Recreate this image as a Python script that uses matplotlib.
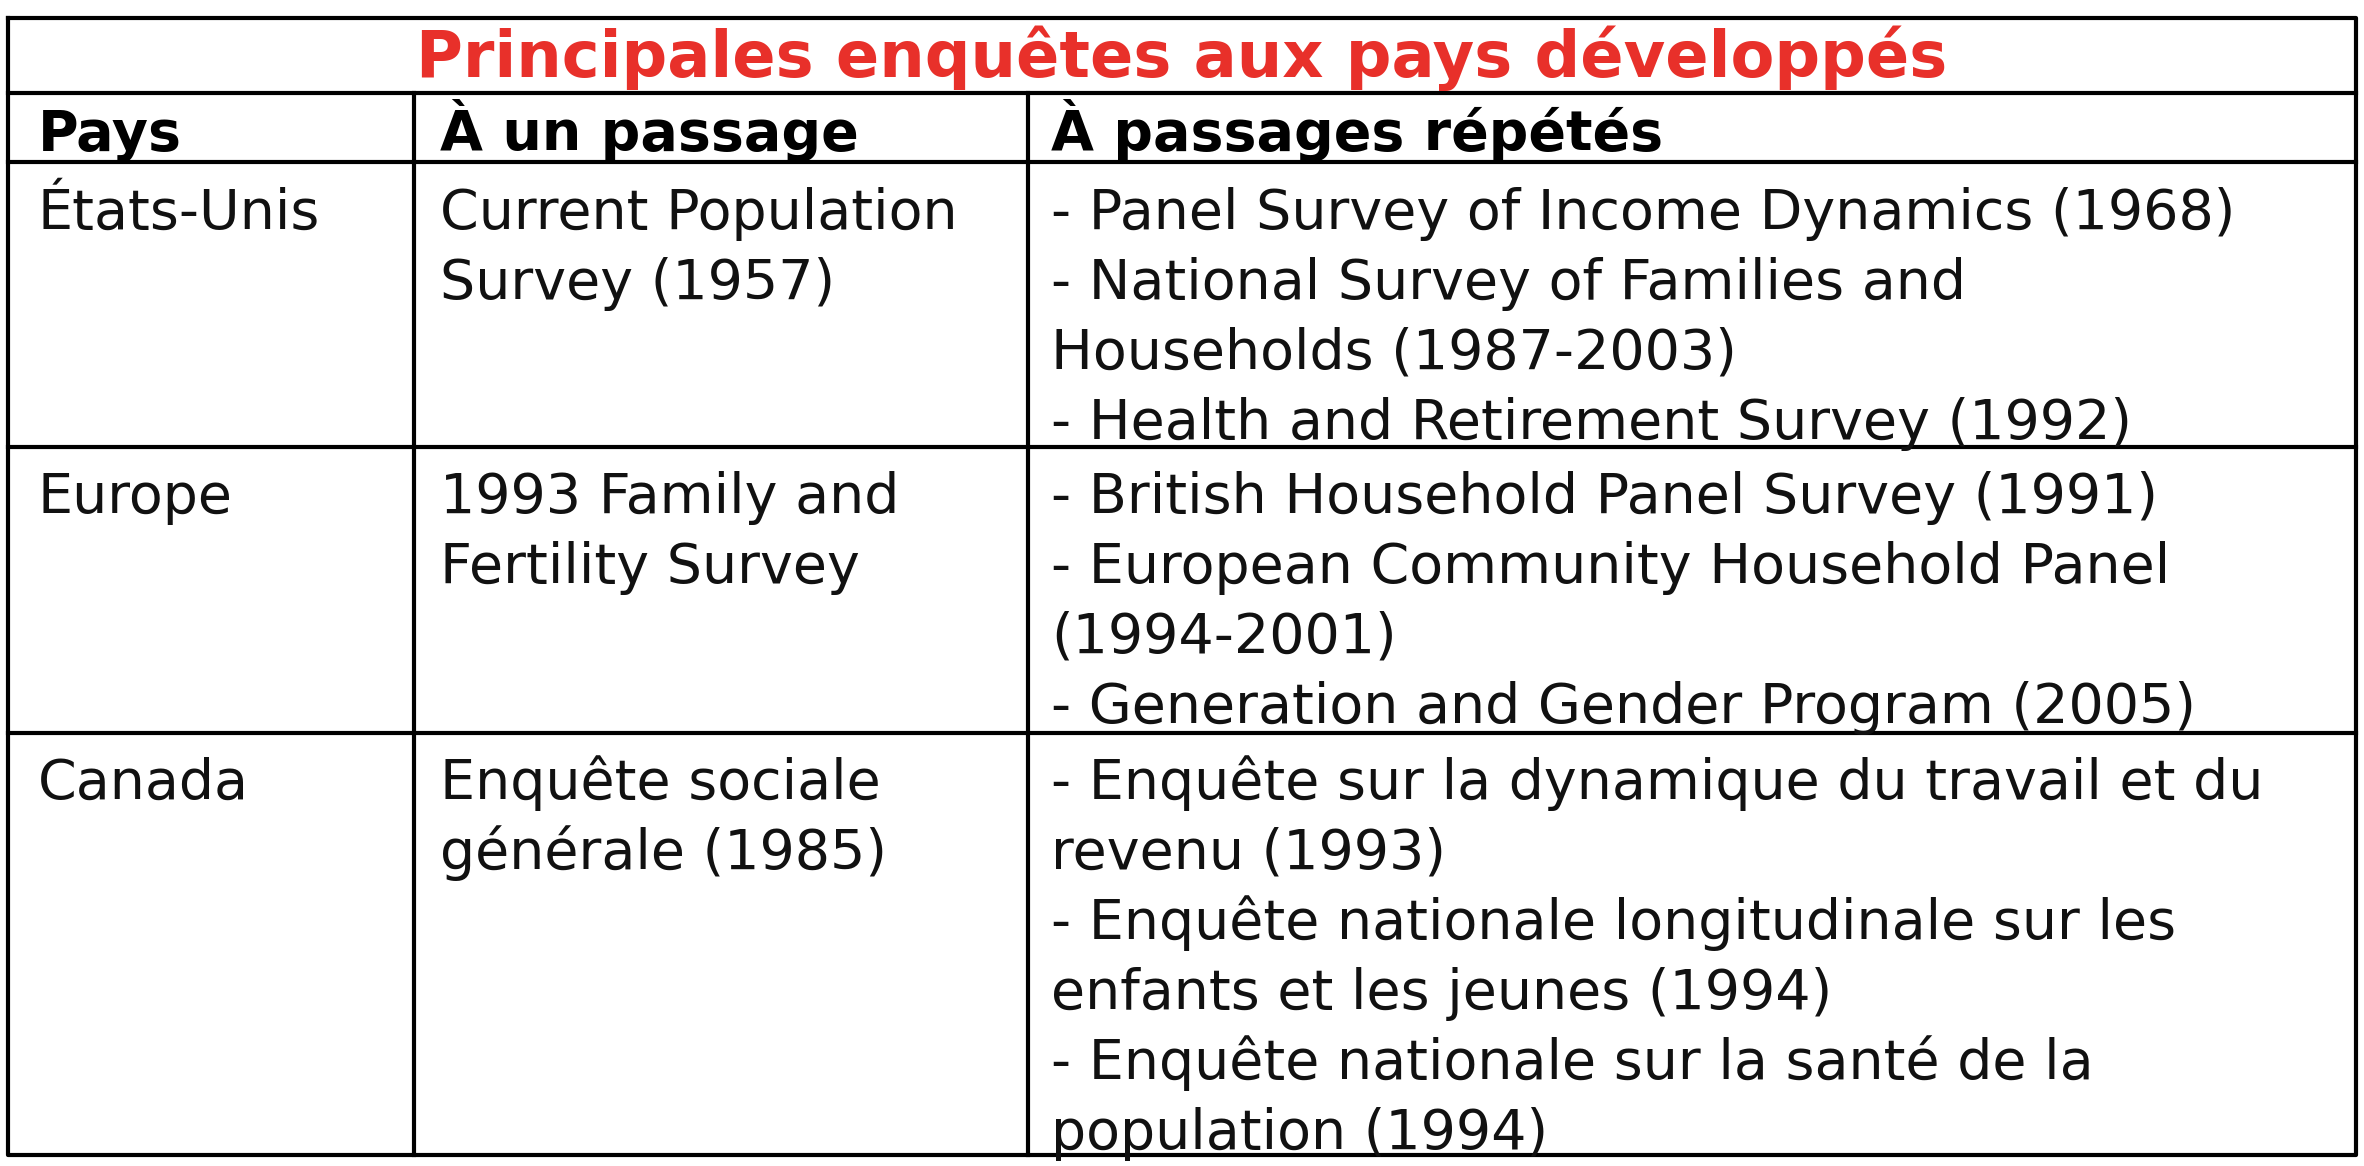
import matplotlib

matplotlib.use("Agg")

import matplotlib.pyplot as plt

TITLE = "Principales enquêtes aux pays développés"
HEADERS = ["Pays", "À un passage", "À passages répétés"]
COUNTRIES = ["États-Unis", "Europe", "Canada"]
SINGLE = [
    ["Current Population", "Survey (1957)"],
    ["1993 Family and", "Fertility Survey"],
    ["Enquête sociale", "générale (1985)"],
]
REPEATED = [
    ["- Panel Survey of Income Dynamics (1968)",
     "- National Survey of Families and",
     "Households (1987-2003)",
     "- Health and Retirement Survey (1992)"],
    ["- British Household Panel Survey (1991)",
     "- European Community Household Panel",
     "(1994-2001)",
     "- Generation and Gender Program (2005)"],
    ["- Enquête sur la dynamique du travail et du",
     "revenu (1993)",
     "- Enquête nationale longitudinale sur les",
     "enfants et les jeunes (1994)",
     "- Enquête nationale sur la santé de la",
     "population (1994)"],
]

W, H = 1570.0, 775.0
fig = plt.figure(figsize=(23.64, 11.66), dpi=100)
ax = fig.add_axes([0, 0, 1, 1])
ax.set_xlim(0, W)
ax.set_ylim(H, 0)
ax.axis("off")

left, right, top, bottom = 5, 1565, 12, 768
col_x = [275, 683]
row_y = [62, 108, 297, 487]
lw = 3
ax.plot([left, right, right, left, left], [top, top, bottom, bottom, top], color="black", lw=lw)
for y in row_y:
    ax.plot([left, right], [y, y], color="black", lw=lw)
for x in col_x:
    ax.plot([x, x], [row_y[0], bottom], color="black", lw=lw)

fs = 40
ax.text((left + right) / 2, 51, TITLE, color="#e8302a", fontsize=46, fontweight="bold",
        ha="center", va="baseline")
text_x = [25, 292, 698]
for x, h in zip(text_x, HEADERS):
    ax.text(x, 100, h, fontsize=fs, fontweight="bold", ha="left", va="baseline")

spacing = 46.5
row_tops = [108, 297, 487]
for i, rt in enumerate(row_tops):
    cells = [[COUNTRIES[i]], SINGLE[i], REPEATED[i]]
    for x, lines in zip(text_x, cells):
        for j, line in enumerate(lines):
            ax.text(x, rt + 44 + j * spacing, line, fontsize=fs, ha="left", va="baseline",
                    color="#111111")

fig.savefig("out.png", dpi=100, facecolor="white")
